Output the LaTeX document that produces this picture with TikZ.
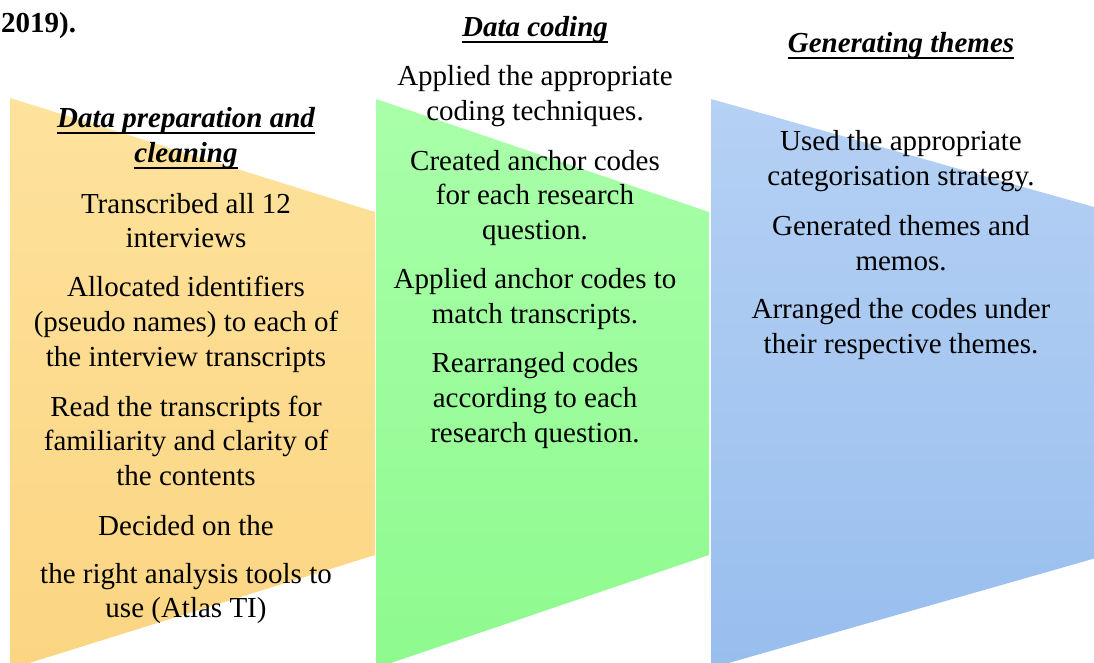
\documentclass[tikz,border=0pt]{standalone}
\usepackage{fontspec}
\setmainfont{Liberation Serif}
\newcommand\fs{\fontsize{29}{35}\selectfont}
\newcommand\ulx[1]{\setbox0=\hbox{#1}\rlap{\rule[-7pt]{\wd0}{1.8pt}}\box0}
\definecolor{ylT}{HTML}{FEE29C}
\definecolor{ylB}{HTML}{FBD582}
\definecolor{grT}{HTML}{A9FFA9}
\definecolor{grB}{HTML}{8EFA8E}
\definecolor{blT}{HTML}{B5D1F4}
\definecolor{blB}{HTML}{98BEEE}
\tikzset{
  txt/.style={font=\fs, anchor=base, inner sep=0pt, text=black},
  hd/.style={font=\fs\bfseries\itshape, anchor=base, inner sep=0pt, text=black},
  wedge/.style={draw=none}
}
\begin{document}
\begin{tikzpicture}[x=1pt,y=-1pt]
\useasboundingbox (0,0) rectangle (1094,662);
\begin{scope}
\clip (0,0) rectangle (1094,662);
\path[wedge, top color=ylT, bottom color=ylB] (10,98) -- (375,212) -- (375,555) -- (10,669) -- cycle;
\path[wedge, top color=grT, bottom color=grB] (376,99) -- (709,212) -- (709,555) -- (376,668) -- cycle;
\path[wedge, top color=blT, bottom color=blB] (711,99) -- (1110,211.5) -- (1110,554) -- (711,668) -- cycle;
\end{scope}

\node[font=\fs\bfseries, anchor=base west, inner sep=0pt] (yr) at (1,32) {2019).};

% column 1
\node[hd] (h1a) at (186,127) {\ulx{Data preparation and}};
\node[hd] (h1b) at (186,162) {\ulx{cleaning}};
\foreach \y/\t [count=\i] in {213/Transcribed all 12, 247/interviews,
  296/Allocated identifiers, 331/(pseudo names) to each of, 366/the interview transcripts,
  416/Read the transcripts for, 450/familiarity and clarity of, 485/the contents,
  535/Decided on the, 583/the right analysis tools to, 617/use (Atlas TI)}
  {\node[txt] (a\i) at (186,\y) {\t};}

% column 2
\node[hd] (h2) at (535,36) {\ulx{Data coding}};
\foreach \y/\t [count=\i] in {85/Applied the appropriate, 120/coding techniques.,
  170/Created anchor codes, 204/for each research, 239/question.,
  288/Applied anchor codes to, 323/match transcripts.,
  372/Rearranged codes, 407/according to each, 442/research question.}
  {\node[txt] (b\i) at (535,\y) {\t};}

% column 3
\node[hd] (h3) at (901,52) {\ulx{Generating themes}};
\foreach \y/\t [count=\i] in {150/Used the appropriate, 185/categorisation strategy.,
  235/Generated themes and, 270/memos.,
  318/Arranged the codes under, 353/their respective themes.}
  {\node[txt] (c\i) at (901,\y) {\t};}
\end{tikzpicture}
\end{document}
